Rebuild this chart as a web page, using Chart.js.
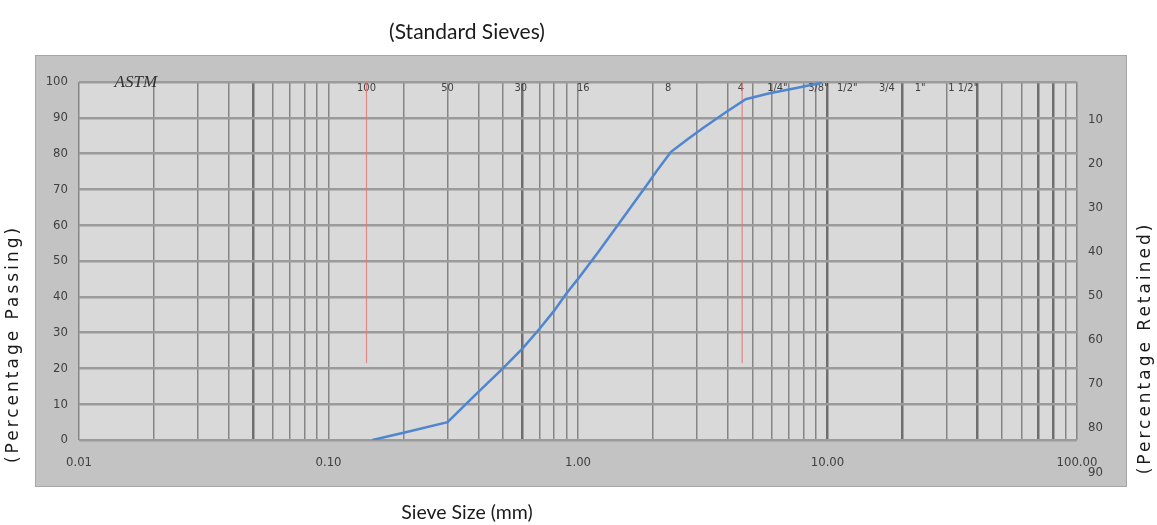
<!DOCTYPE html>
<html>
<head>
<meta charset="utf-8">
<title>Sieve Analysis</title>
<script src="https://cdn.jsdelivr.net/npm/chart.js@4.4.1/dist/chart.umd.min.js"></script>
<style>
  html, body { margin: 0; padding: 0; background: #fff; }
  #wrap { width: 1157px; height: 525px; }
</style>
</head>
<body>
<div id="wrap"><canvas id="grading"></canvas></div>
<script>
// grading curve (sieve opening in mm, % passing)
const sizesMm = [0.15, 0.2, 0.3, 0.4, 0.5, 0.6, 0.7, 0.8, 0.9, 1.0, 1.2, 1.4, 1.6, 1.9, 2.1, 2.36, 2.75, 3.15, 3.9, 4.7, 5.8, 7.5, 9.5];
const passing = [0, 2, 5, 13.5, 20, 25.6, 31, 36, 41, 45, 52.3, 58.7, 64.3, 71.5, 75.8, 80.5, 84, 87, 91.5, 95.2, 96.8, 98.3, 99.8];

// ASTM sieve names along the top edge and where they sit on the mm axis
const sieveNames = ['100', '50', '30', '16', '8', '4', '1/4"', '3/8"', '1/2"', '3/4', '1"', '1 1/2"'];
const sievePos = [0.142, 0.3, 0.59, 1.05, 2.3, 4.5, 6.3, 9.2, 12, 17.3, 23.5, 35];
const standardName = 'ASTM';
const standardPos = 0.0169;

// the two red marker lines (#100 and #4)
const markerPos = [0.142, 4.55];
const markerSpan = [100, 21.5];

// axis ticks
const xDecades = [0.01, 0.1, 1, 10, 100];
const xDecadeLabels = ['0.01', '0.10', '1.00', '10.00', '100.00'];
const heavyLines = [0.05, 0.6, 10, 20, 40, 70, 80];
const passTicks = [0, 10, 20, 30, 40, 50, 60, 70, 80, 90, 100];
const retainedTicks = [10, 20, 30, 40, 50, 60, 70, 80, 90];

// log grid: 1..9 in every decade
const gridValues = [];
for (let e = -2; e <= 1; e++) {
    for (let m = 1; m <= 9; m++) gridValues.push(parseFloat((m * Math.pow(10, e)).toPrecision(6)));
}
gridValues.push(100);

const near = (a, b) => Math.abs(a - b) / b < 1e-6;
const tickFamily = "'Liberation Sans Narrow', 'DejaVu Sans Condensed', sans-serif";
const tickFont = { family: tickFamily, size: 13 };

const framePlugin = {
    id: 'frame',
    beforeDraw(chart) {
        const { ctx, chartArea: a } = chart;
        ctx.save();
        ctx.fillStyle = '#c3c3c3';
        ctx.fillRect(a.left - 44, a.top - 27, a.right - a.left + 94, a.bottom - a.top + 74);
        ctx.strokeStyle = '#a6a6a6';
        ctx.lineWidth = 1;
        ctx.strokeRect(a.left - 43.5, a.top - 26.5, a.right - a.left + 93, a.bottom - a.top + 73);
        ctx.fillStyle = '#d9d9d9';
        ctx.fillRect(a.left, a.top, a.right - a.left, a.bottom - a.top);
        ctx.restore();
    }
};

// sieve designations sit just inside the top edge, under the curve
const sievePlugin = {
    id: 'sieves',
    beforeDatasetsDraw(chart) {
        const { ctx, chartArea: a, scales } = chart;
        ctx.save();
        ctx.textAlign = 'center';
        ctx.textBaseline = 'middle';
        ctx.fillStyle = '#404040';
        ctx.font = '11px ' + tickFamily;
        sievePos.forEach((p, i) => {
            ctx.fillText(sieveNames[i], scales.x.getPixelForValue(p), a.top + 6);
        });
        ctx.fillStyle = '#333333';
        ctx.font = "italic 17px 'Liberation Serif', serif";
        ctx.fillText(standardName, scales.x.getPixelForValue(standardPos), a.top + 1);
        ctx.restore();
    }
};

function sideTitle(ctx, text, x, y) {
    ctx.save();
    ctx.fillStyle = '#1a1a1a';
    ctx.textAlign = 'center';
    ctx.textBaseline = 'middle';
    ctx.font = "17px 'DejaVu Sans', sans-serif";
    ctx.letterSpacing = '3px';
    ctx.translate(x, y);
    ctx.rotate(-Math.PI / 2);
    ctx.fillText(text, 0, 0);
    ctx.restore();
}

const titlesPlugin = {
    id: 'titles',
    afterDraw(chart) {
        const ctx = chart.ctx;
        ctx.save();
        ctx.fillStyle = '#1a1a1a';
        ctx.textAlign = 'center';
        ctx.textBaseline = 'middle';
        ctx.font = "21px Lato, 'Liberation Sans', sans-serif";
        ctx.fillText('(Standard Sieves)', 467, 32);
        ctx.font = "19.5px Lato, 'Liberation Sans', sans-serif";
        ctx.fillText('Sieve Size (mm)', 467, 513);
        ctx.restore();
        sideTitle(ctx, '(Percentage Passing)', 14, 344);
        sideTitle(ctx, '(Percentage Retained)', 1146, 348);
    }
};

new Chart(document.getElementById('grading'), {
    type: 'line',
    data: {
        datasets: [
            {
                data: sizesMm.map((s, i) => ({ x: s, y: passing[i] })),
                borderColor: '#4f86d0',
                borderWidth: 2.5,
                pointRadius: 0,
                tension: 0
            },
            ...markerPos.map(p => ({
                data: markerSpan.map(v => ({ x: p, y: v })),
                borderColor: 'rgba(222, 120, 120, 0.85)',
                borderWidth: 1.2,
                pointRadius: 0
            }))
        ]
    },
    options: {
        responsive: true,
        maintainAspectRatio: false,
        animation: false,
        layout: { padding: { top: 82 } },
        plugins: { legend: { display: false }, tooltip: { enabled: false } },
        scales: {
            x: {
                type: 'logarithmic',
                min: 0.01,
                max: 100,
                afterBuildTicks: s => { s.ticks = gridValues.map(v => ({ value: v })); },
                afterFit: s => { s.height = 85; },
                grid: {
                    drawTicks: false,
                    color: c => heavyLines.some(h => near(c.tick.value, h)) ? '#6f6f6f' : '#858585',
                    lineWidth: c => heavyLines.some(h => near(c.tick.value, h)) ? 2.5 : 1.5
                },
                border: { display: false },
                ticks: {
                    autoSkip: false,
                    maxRotation: 0,
                    padding: 15,
                    color: '#404040',
                    font: tickFont,
                    callback: v => {
                        const i = xDecades.findIndex(d => near(v, d));
                        return i < 0 ? '' : xDecadeLabels[i];
                    }
                }
            },
            y: {
                min: 0,
                max: 100,
                afterBuildTicks: s => { s.ticks = passTicks.map(v => ({ value: v })); },
                afterFit: s => { s.width = 79; },
                grid: { drawTicks: false, color: '#9b9b9b', lineWidth: 2.5 },
                border: { display: false },
                ticks: { padding: 11, color: '#404040', font: tickFont }
            },
            yRight: {
                position: 'right',
                reverse: true,
                min: 1.36,
                max: 82.7,
                afterBuildTicks: s => { s.ticks = retainedTicks.map(v => ({ value: v })); },
                afterFit: s => { s.width = 80; },
                grid: { display: false, drawTicks: false },
                border: { display: false },
                ticks: { autoSkip: false, padding: 11, color: '#404040', font: tickFont }
            }
        }
    },
    plugins: [framePlugin, sievePlugin, titlesPlugin]
});
</script>
</body>
</html>
